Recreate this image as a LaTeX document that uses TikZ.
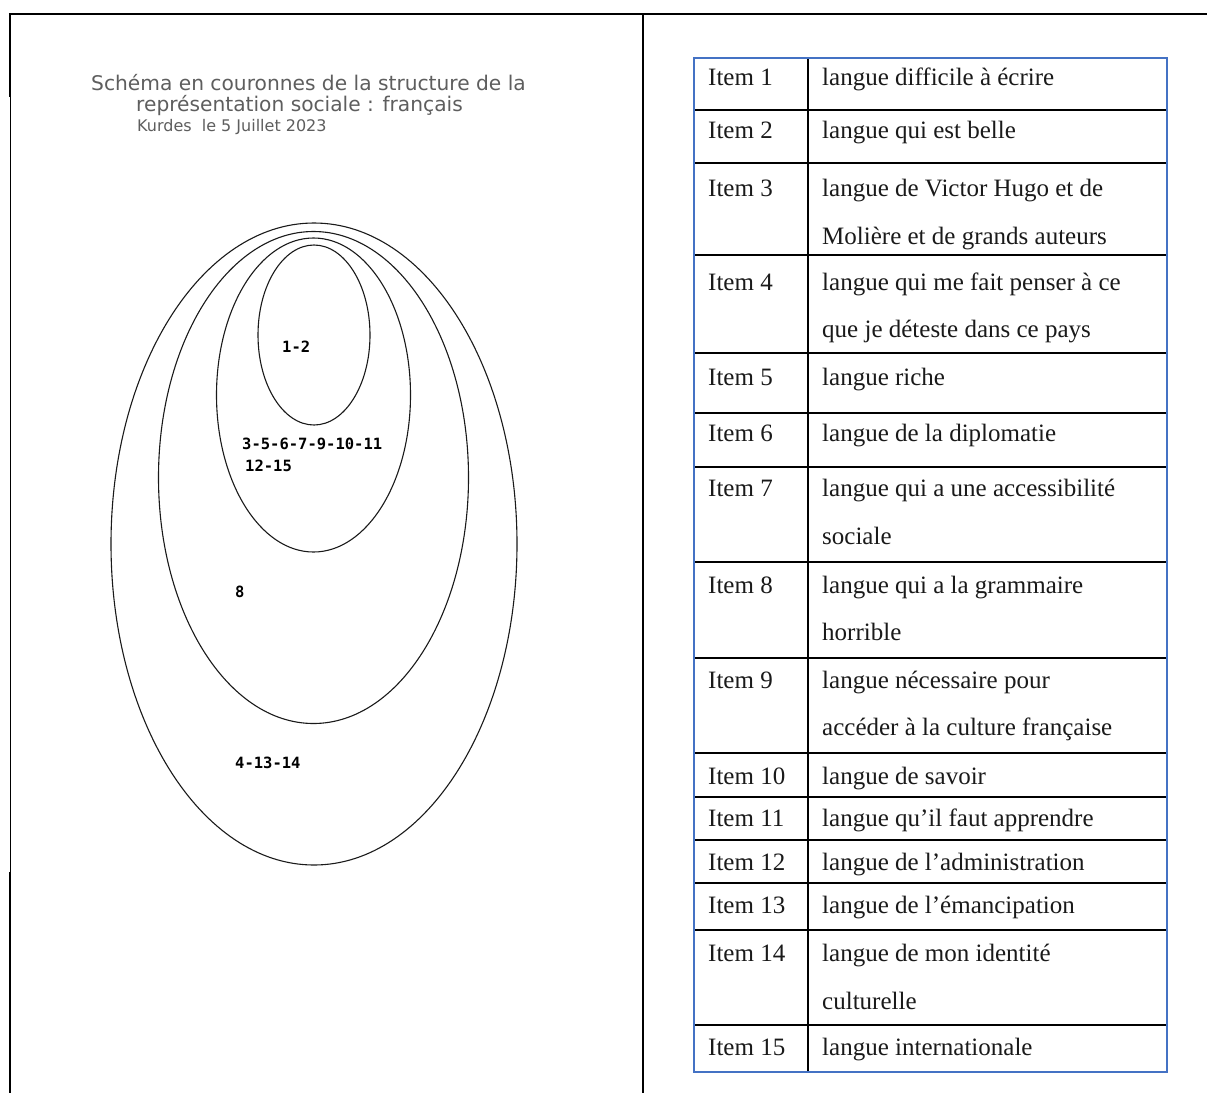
\documentclass[tikz,border=0pt]{standalone}
\usepackage{fontspec}
\setmainfont{Liberation Serif}
\newfontfamily\titlefont{DejaVu Sans}
\newfontfamily\labfont{DejaVu Sans Mono}
\definecolor{tblue}{HTML}{4472C4}
\definecolor{tgray}{HTML}{5E5E5E}
\definecolor{ink}{HTML}{1A1A1A}
\begin{document}
\begin{tikzpicture}[x=1pt,y=-1pt,
  frame/.style={line width=2.2pt,black},
  thinframe/.style={line width=1pt,black},
  ring/.style={line width=1.1pt,draw=ink},
  ttl/.style={anchor=base west,inner sep=0pt,text=tgray,font=\titlefont\fontsize{20.2}{24}\selectfont},
  subttl/.style={anchor=base west,inner sep=0pt,text=tgray,font=\titlefont\fontsize{16}{18}\selectfont},
  lab/.style={anchor=base west,inner sep=0pt,text=black,font=\labfont\bfseries\fontsize{15.5}{18}\selectfont},
  cell/.style={anchor=base west,inner sep=0pt,text=ink,font=\fontsize{25}{30}\selectfont},
  rowline/.style={line width=2pt,black},
  tborder/.style={line width=2pt,draw=tblue}]
\useasboundingbox (0,0) rectangle (1207,1093);
\fill[white] (0,0) rectangle (1207,1093);

% outer frame
\draw[frame] (8.9,14) -- (1207,14);
\draw[line width=2.6pt] (10,13) -- (10,97);
\draw[thinframe] (10,97) -- (10,872);
\draw[line width=2.4pt] (10,872) -- (10,1093);
\draw[frame] (643,13) -- (643,1093);

% title
\node[ttl] (t1) at (91,90) {Schéma en couronnes de la structure de la};
\node[ttl] (t2) at (136,111) {représentation sociale : français};
\node[subttl] (t3) at (137,131) {Kurdes\ \ le 5 Juillet 2023};

% rings
\draw[ring] (314,544) ellipse [x radius=203, y radius=321];
\draw[ring] (313.5,477.5) ellipse [x radius=155, y radius=246];
\draw[ring] (313.5,395) ellipse [x radius=97, y radius=157];
\draw[ring] (314,335) ellipse [x radius=56, y radius=90];

% ring labels
\node[lab] (l1) at (282,352) {1-2};
\node[lab] (l2) at (242,449) {3-5-6-7-9-10-11};
\node[lab] (l3) at (245,471) {12-15};
\node[lab] (l4) at (235,597) {8};
\node[lab] (l5) at (235,768) {4-13-14};

% table lines
\foreach \yy in {110,163,255,353,413,467,562,658,753,797,840,883,930,1025}
  \draw[rowline] (694,\yy) -- (1167,\yy);
\draw[rowline] (808,58) -- (808,1072);
\draw[tborder] (694,58) rectangle (1167,1072);

% table text
\node[cell] (i1) at (708,85) {Item 1};
\node[cell] (d1) at (822,85) {langue difficile à écrire};
\node[cell] (i2) at (708,138) {Item 2};
\node[cell] (d2) at (822,138) {langue qui est belle};
\node[cell] (i3) at (708,196) {Item 3};
\node[cell] (d3a) at (822,196) {langue de Victor Hugo et de};
\node[cell] (d3b) at (822,244) {Molière et de grands auteurs};
\node[cell] (i4) at (708,290) {Item 4};
\node[cell] (d4a) at (822,290) {langue qui me fait penser à ce};
\node[cell] (d4b) at (822,337) {que je déteste dans ce pays};
\node[cell] (i5) at (708,385) {Item 5};
\node[cell] (d5) at (822,385) {langue riche};
\node[cell] (i6) at (708,441) {Item 6};
\node[cell] (d6) at (822,441) {langue de la diplomatie};
\node[cell] (i7) at (708,496) {Item 7};
\node[cell] (d7a) at (822,496) {langue qui a une accessibilité};
\node[cell] (d7b) at (822,544) {sociale};
\node[cell] (i8) at (708,593) {Item 8};
\node[cell] (d8a) at (822,593) {langue qui a la grammaire};
\node[cell] (d8b) at (822,640) {horrible};
\node[cell] (i9) at (708,688) {Item 9};
\node[cell] (d9a) at (822,688) {langue nécessaire pour};
\node[cell] (d9b) at (822,735) {accéder à la culture française};
\node[cell] (i10) at (708,784) {Item 10};
\node[cell] (d10) at (822,784) {langue de savoir};
\node[cell] (i11) at (708,826) {Item 11};
\node[cell] (d11) at (822,826) {langue qu’il faut apprendre};
\node[cell] (i12) at (708,870) {Item 12};
\node[cell] (d12) at (822,870) {langue de l’administration};
\node[cell] (i13) at (708,913) {Item 13};
\node[cell] (d13) at (822,913) {langue de l’émancipation};
\node[cell] (i14) at (708,961) {Item 14};
\node[cell] (d14a) at (822,961) {langue de mon identité};
\node[cell] (d14b) at (822,1009) {culturelle};
\node[cell] (i15) at (708,1055) {Item 15};
\node[cell] (d15) at (822,1055) {langue internationale};
\end{tikzpicture}
\end{document}
